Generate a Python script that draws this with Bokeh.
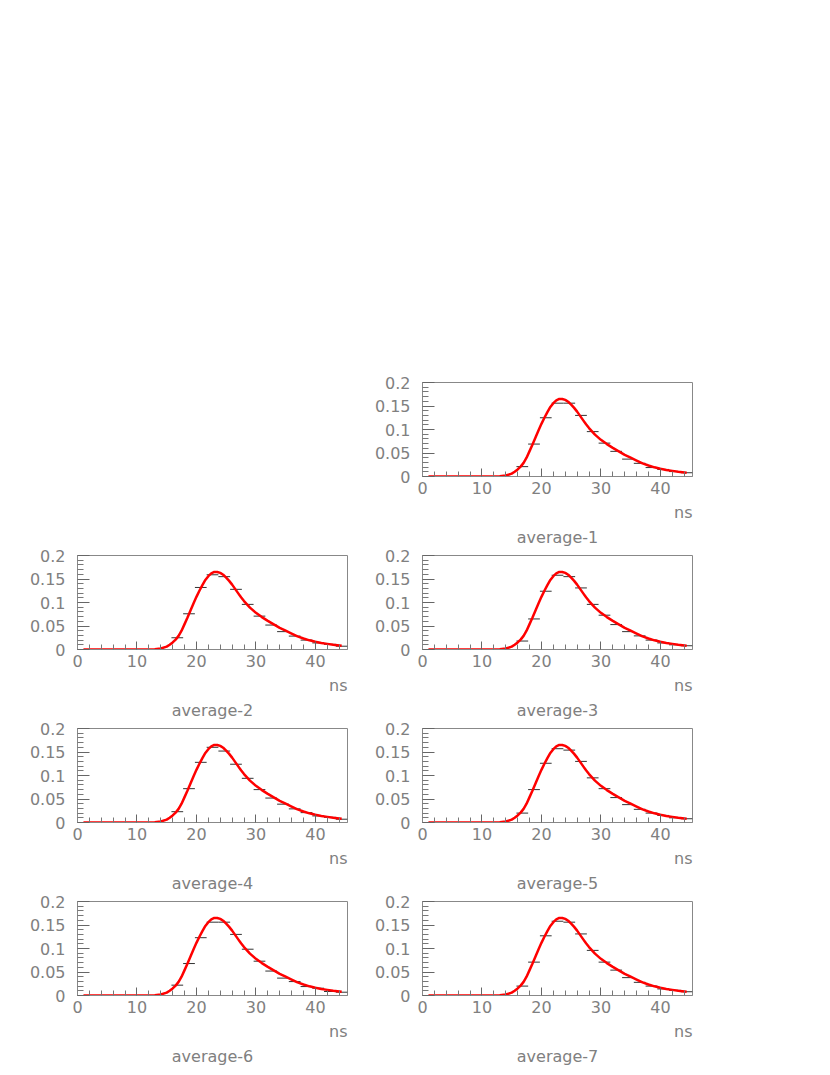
from bokeh.plotting import figure
from bokeh.layouts import column, row, Spacer
from bokeh.models import Range1d, FixedTicker, CustomJSTickFormatter, Title
from bokeh.embed import file_html
from bokeh.resources import INLINE

# ---- data ----
bin_centers = [0.99, 2.96, 4.94, 6.91, 8.88, 10.86, 12.83, 14.81, 16.78, 18.75,
               20.73, 22.70, 24.68, 26.65, 28.62, 30.60, 32.57, 34.55, 36.52,
               38.50, 40.47, 42.44, 44.42]
bin_width = 1.974

zeros = [0, 0, 0, 0, 0, 0, 0, 0]
avg1 = zeros + [0.021, 0.069, 0.125, 0.156, 0.156, 0.130, 0.0955, 0.071, 0.0535, 0.037, 0.028, 0.019, 0.015, 0.0105, 0.008]
avg2 = zeros + [0.025, 0.076, 0.132, 0.159, 0.155, 0.128, 0.096, 0.071, 0.052, 0.038, 0.0285, 0.020, 0.014, 0.011, 0.007]
avg3 = zeros + [0.018, 0.065, 0.124, 0.158, 0.155, 0.131, 0.096, 0.073, 0.053, 0.038, 0.029, 0.020, 0.014, 0.010, 0.008]
avg4 = zeros + [0.023, 0.072, 0.128, 0.160, 0.152, 0.124, 0.094, 0.070, 0.052, 0.039, 0.029, 0.021, 0.014, 0.011, 0.007]
avg5 = zeros + [0.020, 0.070, 0.126, 0.157, 0.154, 0.130, 0.095, 0.072, 0.053, 0.038, 0.028, 0.020, 0.015, 0.010, 0.008]
avg6 = zeros + [0.022, 0.068, 0.123, 0.156, 0.156, 0.130, 0.0985, 0.073, 0.052, 0.037, 0.0296, 0.019, 0.0155, 0.0085, 0.007]
avg7 = zeros + [0.020, 0.071, 0.127, 0.158, 0.156, 0.131, 0.096, 0.071, 0.054, 0.038, 0.028, 0.020, 0.014, 0.011, 0.008]

fit_x = [1, 12, 13, 14, 15, 15.5, 16, 16.5, 17, 17.5, 18, 18.5, 19, 19.5, 20,
         20.5, 21, 21.5, 22, 22.5, 23, 23.5, 24, 24.5, 25, 25.5, 26, 26.5, 27,
         27.5, 28, 29, 30, 31, 32, 33, 34, 35, 36, 37, 38, 39, 40, 41, 42, 43,
         44.42]
fit_y = [0, 0, 0.0005, 0.002, 0.006, 0.010, 0.015, 0.021, 0.029, 0.040, 0.054,
         0.068, 0.083, 0.098, 0.112, 0.125, 0.137, 0.148, 0.156, 0.162, 0.165,
         0.165, 0.163, 0.159, 0.153, 0.146, 0.138, 0.129, 0.120, 0.111, 0.103,
         0.089, 0.078, 0.069, 0.061, 0.0535, 0.046, 0.040, 0.034, 0.028, 0.0235,
         0.0195, 0.0165, 0.014, 0.012, 0.010, 0.0078]

panels = [("average-1", avg1), ("average-2", avg2), ("average-3", avg3),
          ("average-4", avg4), ("average-5", avg5), ("average-6", avg6),
          ("average-7", avg7)]

x_major = [0, 10, 20, 30, 40]
x_minor = [2, 4, 6, 8, 12, 14, 16, 18, 22, 24, 26, 28, 32, 34, 36, 38, 42, 44]
y_major = [0, 0.05, 0.1, 0.15, 0.2]
y_minor = [0.01, 0.02, 0.03, 0.04, 0.06, 0.07, 0.08, 0.09, 0.11, 0.12, 0.13,
           0.14, 0.16, 0.17, 0.18, 0.19]
x_unit = "ns"

FONT = "DejaVu Sans"
TXT = "#808080"
LINE = "#888888"


def make_panel(name, vals):
    p = figure(width=345, height=173, x_range=Range1d(0, 45.4), y_range=Range1d(0, 0.2),
               output_backend="svg", toolbar_location=None,
               min_border_left=69, min_border_right=6, min_border_top=9, min_border_bottom=68)
    p.grid.visible = False
    p.outline_line_color = LINE
    p.background_fill_color = "white"
    p.border_fill_color = "white"

    for ax in (p.xaxis[0], p.yaxis[0]):
        ax.axis_line_color = LINE
        ax.major_tick_line_color = "#666666"
        ax.minor_tick_line_color = "#777777"
        ax.major_tick_out = 0
        ax.minor_tick_out = 0
        ax.major_label_text_font = FONT
        ax.major_label_text_font_size = "16px"
        ax.major_label_text_color = TXT

    p.xaxis.ticker = FixedTicker(ticks=x_major, minor_ticks=x_minor)
    p.xaxis.major_tick_in = 8
    p.xaxis.minor_tick_in = 5
    p.xaxis.major_label_standoff = 5

    p.yaxis.ticker = FixedTicker(ticks=y_major, minor_ticks=y_minor)
    p.yaxis.major_tick_in = 12
    p.yaxis.minor_tick_in = 6
    p.yaxis.major_label_standoff = 12
    p.yaxis.formatter = CustomJSTickFormatter(
        code="var s = tick.toFixed(2); s = s.replace(/0+$/, ''); s = s.replace(/\\.$/, ''); return s;")

    # histogram points (horizontal bin-width bars)
    x0 = [c - bin_width / 2 for c in bin_centers]
    x1 = [c + bin_width / 2 for c in bin_centers]
    p.segment(x0=x0, y0=vals, x1=x1, y1=vals, line_color="#333333", line_width=1)

    # fitted curve
    p.line(fit_x, fit_y, line_color="#ff0000", line_width=2.5)

    t1 = Title(text=x_unit, align="right", text_font=FONT, text_font_size="16px",
               text_font_style="normal", text_color=TXT, standoff=8)
    t2 = Title(text=name, align="center", text_font=FONT, text_font_size="16px",
               text_font_style="normal", text_color=TXT, standoff=0)
    p.add_layout(t1, "below")
    p.add_layout(t2, "below")
    return p


figs = [make_panel(n, v) for n, v in panels]

layout = row(
    Spacer(width=8, height=10),
    column(
        Spacer(width=690, height=373),
        row(Spacer(width=345, height=173), figs[0]),
        row(figs[1], figs[2]),
        row(figs[3], figs[4]),
        row(figs[5], figs[6]),
    ),
)

open("out.html", "w").write(file_html(layout, INLINE))
